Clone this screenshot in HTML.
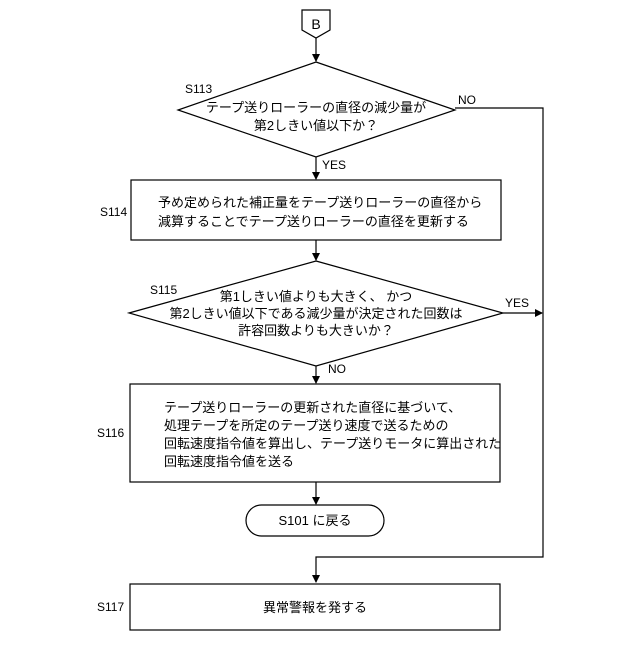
<!DOCTYPE html>
<html><head><meta charset="utf-8"><style>
html,body{margin:0;padding:0;background:#fff}
svg text{font-family:"Liberation Sans","Noto Sans CJK JP",sans-serif;fill:#000}
</style></head><body>
<svg width="640" height="640" viewBox="0 0 640 640" xmlns="http://www.w3.org/2000/svg">
<defs><marker id="a" markerWidth="8" markerHeight="8" refX="7" refY="4" orient="auto" markerUnits="userSpaceOnUse"><path d="M0,0 L8,4 L0,8 z" fill="#000"/></marker></defs>
<g fill="none" stroke="#000" stroke-width="1.2">
<path d="M302,10 H330 V30 L316,38 L302,30 Z"/>
<line x1="316" y1="38" x2="316" y2="61" marker-end="url(#a)"/>
<path d="M316,62 L455,110 L316,157 L178,110 Z"/>
<polyline points="455,108 543,108 543,557 316,557 316,582" marker-end="url(#a)"/>
<line x1="316" y1="157" x2="316" y2="179" marker-end="url(#a)"/>
<rect x="131" y="180" width="370" height="60"/>
<line x1="316" y1="240" x2="316" y2="260" marker-end="url(#a)"/>
<path d="M316,261 L503,313 L316,366 L129,313 Z"/>
<line x1="503" y1="313" x2="542" y2="313" marker-end="url(#a)"/>
<line x1="316" y1="366" x2="316" y2="383" marker-end="url(#a)"/>
<rect x="130" y="384" width="370" height="98"/>
<line x1="316" y1="482" x2="316" y2="504" marker-end="url(#a)"/>
<rect x="246" y="505" width="138" height="31" rx="15.5"/>
<rect x="130" y="584" width="370" height="46"/>
</g>
<g font-size="13">
<text x="316" y="29" text-anchor="middle" font-size="14">B</text>
<text x="185" y="93" font-size="12">S113</text>
<text x="458" y="104" font-size="12">NO</text>
<text x="316" y="112" text-anchor="middle">テープ送りローラーの直径の減少量が</text>
<text x="316" y="130" text-anchor="middle">第2しきい値以下か？</text>
<text x="322" y="169" font-size="12">YES</text>
<text x="100" y="216" font-size="12">S114</text>
<text x="158" y="207">予め定められた補正量をテープ送りローラーの直径から</text>
<text x="158" y="226">減算することでテープ送りローラーの直径を更新する</text>
<text x="150" y="294" font-size="12">S115</text>
<text x="316" y="301" text-anchor="middle">第1しきい値よりも大きく、 かつ</text>
<text x="316" y="318" text-anchor="middle">第2しきい値以下である減少量が決定された回数は</text>
<text x="316" y="335" text-anchor="middle">許容回数よりも大きいか？</text>
<text x="505" y="307" font-size="12">YES</text>
<text x="328" y="373" font-size="12">NO</text>
<text x="97" y="437" font-size="12">S116</text>
<text x="164" y="412">テープ送りローラーの更新された直径に基づいて、</text>
<text x="164" y="430">処理テープを所定のテープ送り速度で送るための</text>
<text x="164" y="448">回転速度指令値を算出し、テープ送りモータに算出された</text>
<text x="164" y="466">回転速度指令値を送る</text>
<text x="315" y="525" text-anchor="middle">S101 に戻る</text>
<text x="97" y="611" font-size="12">S117</text>
<text x="315" y="612" text-anchor="middle">異常警報を発する</text>
</g>
</svg>
</body></html>
